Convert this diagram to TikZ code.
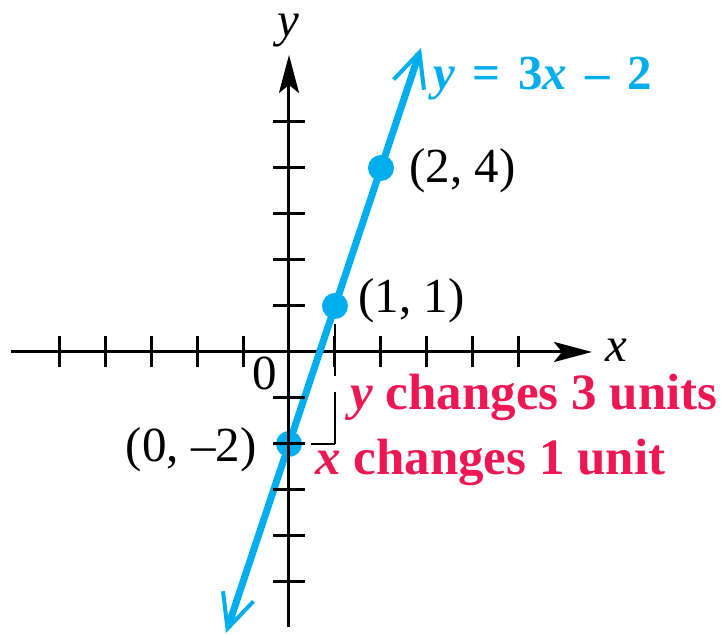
\documentclass[tikz,border=0pt]{standalone}
\usepackage{fontspec}
\setmainfont{Liberation Serif}
\usetikzlibrary{arrows.meta}
\definecolor{lineblue}{RGB}{0,174,239}
\definecolor{notered}{RGB}{237,23,83}
\begin{document}
\begin{tikzpicture}[x=23pt,y=23pt,
  axisline/.style={line width=1.5pt,-{Stealth[length=19pt,width=10pt,inset=4pt]}},
  tickline/.style={line width=1.5pt},
  graphline/.style={lineblue,line width=3.5pt,
    {Straight Barb[length=17pt,width=16pt,line width=2pt]}-{Straight Barb[length=17pt,width=16pt,line width=2pt]}},
  ptdot/.style={circle,fill=lineblue,inner sep=0pt,minimum size=13pt},
  vguide/.style={line width=1.4pt,dash pattern=on 26pt off 8pt},
  hguide/.style={line width=1.4pt,dash pattern=on 12pt off 8pt},
  lbl/.style={inner sep=0pt,font=\fontsize{24.5}{28}\selectfont},
  redlbl/.style={inner sep=0pt,text=notered,font=\fontsize{25.5}{30}\selectfont\bfseries},
  eqlbl/.style={inner sep=0pt,text=lineblue,font=\fontsize{24.5}{28}\selectfont\bfseries}]
\useasboundingbox (-6.283,-6.152) rectangle (9.457,7.652);
% points
\coordinate (lo) at (-1.37,-6.11);
\coordinate (hi) at (2.87,6.61);
\coordinate (c) at (1,-2);
\coordinate (xL) at (-6.04,0);
\coordinate (xR) at (6.587,0);
\coordinate (yB) at (0,-5.98);
\coordinate (yT) at (0,6.457);
% guides
\draw[vguide] (c) -- (1,1);
\draw[hguide] (c) -- (0,-2);
% x axis
\draw[axisline] (xL) -- (xR);
\foreach \t in {-5,...,-1,1,2,...,5}{
  \draw[tickline] (\t,-0.337) -- (\t,0.337);
}
% graph
\draw[graphline] (lo) -- (hi);
\node[ptdot] (p0) at (0,-2) {};
\node[ptdot] (p1) at (1,1) {};
\node[ptdot] (p2) at (2,4) {};
% y axis
\draw[axisline] (yB) -- (yT);
\foreach \t in {-5,...,-1,1,2,...,5}{
  \draw[tickline] (-0.337,\t) -- (0.337,\t);
}
% labels
\node[lbl,anchor=base,font=\fontsize{24.5}{28}\selectfont\itshape] (ylab) at (-0.02,6.86) {y};
\node[lbl,anchor=base west,font=\fontsize{24.5}{28}\selectfont\itshape] (xlab) at (6.87,-0.217) {x};
\node[lbl,anchor=base east] (zero) at (-0.26,-0.826) {0};
\node[lbl,anchor=base east] (l0) at (-0.696,-2.39) {(0, –2)};
\node[lbl,anchor=base west] (l1) at (1.5,0.848) {(1, 1)};
\node[lbl,anchor=base west] (l2) at (2.61,3.674) {(2, 4)};
\node[eqlbl,anchor=base west] (eq) at (3.13,5.70) {\textit{y}\hspace{0.36em}=\hspace{0.36em}3\textit{x}\hspace{0.36em}–\hspace{0.36em}2};
\node[redlbl,anchor=base west] (r1) at (1.326,-1.26) {\textit{y} changes 3 units};
\node[redlbl,anchor=base west] (r2) at (0.565,-2.67) {\textit{x} changes 1 unit};
\end{tikzpicture}
\end{document}
